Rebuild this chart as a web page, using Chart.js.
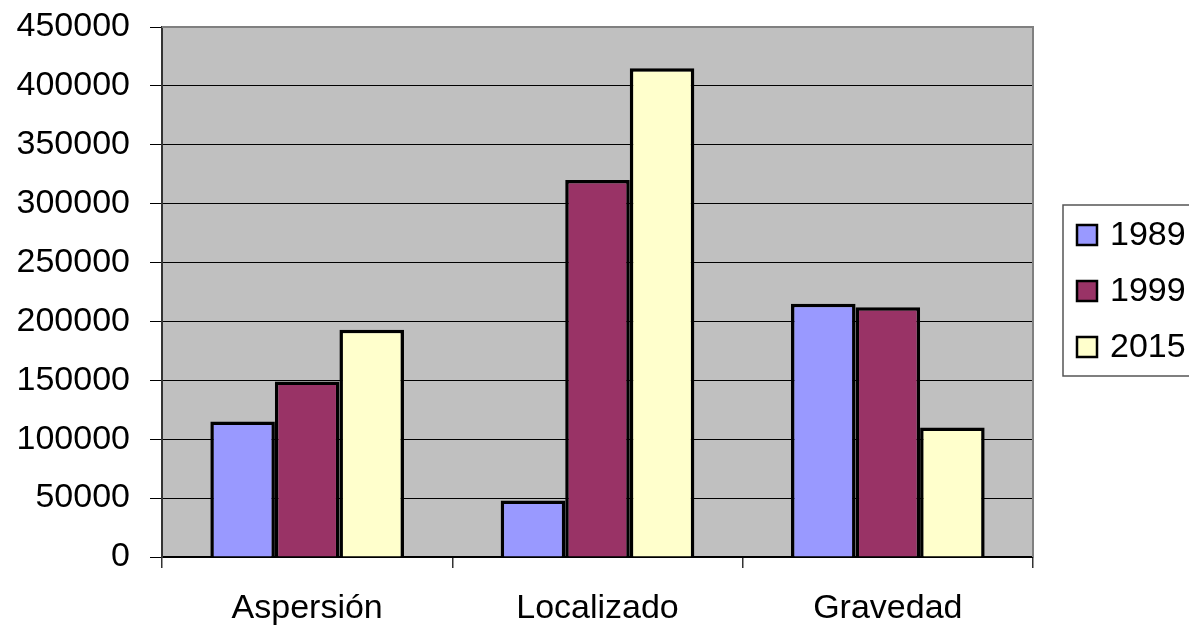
<!DOCTYPE html>
<html>
<head>
<meta charset="utf-8">
<script src="https://cdn.jsdelivr.net/npm/chart.js@4/dist/chart.umd.min.js"></script>
<style>
  html, body { margin: 0; padding: 0; background: #fff; }
  canvas { display: block; }
</style>
</head>
<body>
<canvas id="myChart" width="1189" height="625"></canvas>
<script>
const categories = ['Aspersión', 'Localizado', 'Gravedad'];
const years = ['1989', '1999', '2015'];
const values1989 = [115000, 48000, 215000];
const values1999 = [149000, 320000, 212000];
const values2015 = [193000, 415000, 110000];
const yTicks = [0, 50000, 100000, 150000, 200000, 250000, 300000, 350000, 400000, 450000];

const FONT = '"Liberation Sans", Arial, sans-serif';

// gray plot area
const plotBg = {
  id: 'plotBg',
  beforeDraw(chart) {
    const { ctx, chartArea: a } = chart;
    ctx.save();
    ctx.fillStyle = '#C0C0C0';
    ctx.fillRect(a.left, a.top, a.right - a.left, a.bottom - a.top);
    ctx.restore();
  },
  beforeDatasetsDraw(chart) {
    const { ctx, chartArea: a } = chart;
    ctx.save();
    ctx.strokeStyle = '#808080';
    ctx.lineWidth = 2;
    ctx.beginPath();
    ctx.moveTo(a.left, a.top);
    ctx.lineTo(a.right, a.top);
    ctx.lineTo(a.right, a.bottom);
    ctx.stroke();
    ctx.restore();
  }
};

// legend box on the right, cut by the page edge like the original
const legendBox = {
  id: 'legendBox',
  afterDraw(chart) {
    const ctx = chart.ctx;
    const x0 = chart.chartArea.right + 30;
    ctx.save();
    ctx.strokeStyle = '#555';
    ctx.lineWidth = 1.5;
    ctx.strokeRect(x0, 205, 150, 171);
    chart.data.datasets.forEach((ds, i) => {
      const cy = 235 + i * 56;
      ctx.fillStyle = ds.backgroundColor;
      ctx.fillRect(x0 + 14, cy - 10, 20, 20);
      ctx.strokeStyle = '#000';
      ctx.lineWidth = 2.5;
      ctx.strokeRect(x0 + 14, cy - 10, 20, 20);
      ctx.fillStyle = '#000';
      ctx.font = '34px ' + FONT;
      ctx.textBaseline = 'middle';
      ctx.fillText(ds.label, x0 + 47, cy + 1);
    });
    ctx.restore();
  }
};

const ctx = document.getElementById('myChart').getContext('2d');
new Chart(ctx, {
  type: 'bar',
  data: {
    labels: categories,
    datasets: [
      { label: years[0], data: values1989, backgroundColor: '#9999FF' },
      { label: years[1], data: values1999, backgroundColor: '#993366' },
      { label: years[2], data: values2015, backgroundColor: '#FFFFCC' }
    ]
  },
  options: {
    responsive: false,
    animation: false,
    devicePixelRatio: 1,
    layout: { padding: { top: 27, right: 156, left: 0, bottom: 0 } },
    datasets: {
      bar: {
        borderColor: '#000',
        borderWidth: 3.5,
        categoryPercentage: 0.667,
        barPercentage: 1
      }
    },
    plugins: {
      legend: { display: false },
      tooltip: { enabled: false }
    },
    scales: {
      x: {
        afterFit(scale) { scale.height = 68; scale.paddingLeft = 0; scale.paddingRight = 0; },
        grid: {
          offset: true,
          drawOnChartArea: false,
          tickLength: 11,
          color: '#333',
          lineWidth: 1.5
        },
        border: { display: true, color: '#000', width: 2 },
        ticks: {
          color: '#000',
          padding: 20,
          font: { family: FONT, size: 34 }
        }
      },
      y: {
        min: 0,
        max: 450000,
        afterFit(scale) { scale.width = 162; scale.paddingTop = 0; scale.paddingBottom = 0; },
        afterBuildTicks(scale) { scale.ticks = yTicks.map(v => ({ value: v })); },
        grid: {
          color: '#000',
          lineWidth: 1,
          tickLength: 12
        },
        border: { display: true, color: '#333', width: 2 },
        ticks: {
          color: '#000',
          padding: 20,
          font: { family: FONT, size: 34 },
          callback: v => String(v)
        }
      }
    }
  },
  plugins: [plotBg, legendBox]
});
</script>
</body>
</html>
